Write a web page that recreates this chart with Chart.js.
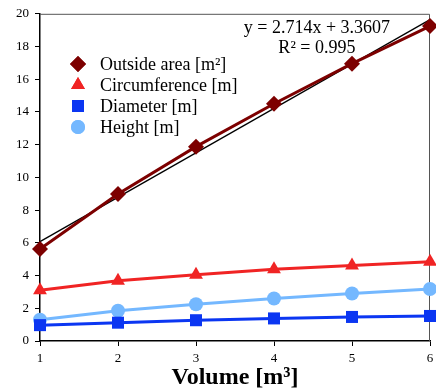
<!DOCTYPE html>
<html>
<head>
<meta charset="utf-8">
<script src="https://cdn.jsdelivr.net/npm/chart.js@4/dist/chart.umd.min.js"></script>
<style>
  html, body { margin: 0; padding: 0; background: #fff; }
  #wrap { width: 436px; height: 392px; }
</style>
</head>
<body>
<div id="wrap"><canvas id="myChart" width="436" height="392"></canvas></div>
<script>
// volumes on the x axis
const volumes = [1, 2, 3, 4, 5, 6];
const outsideArea = [5.62, 8.98, 11.88, 14.5, 16.95, 19.25];
const circumference = [3.1, 3.68, 4.05, 4.38, 4.62, 4.85];
const diameter = [0.97, 1.12, 1.27, 1.38, 1.47, 1.53];
const height = [1.3, 1.85, 2.25, 2.6, 2.9, 3.18];
const seriesNames = ['Outside area [m²]', 'Circumference [m]', 'Diameter [m]', 'Height [m]'];
// linear trend of outside area, as printed on the chart
const trendSlope = 2.714;
const trendIntercept = 3.3607;
const trendR2 = 0.995;

const serif = "'Liberation Serif', 'Times New Roman', serif";

function pts(ys) {
    return volumes.map((x, i) => ({x: x, y: ys[i]}));
}
const trendX = [volumes[0], volumes[volumes.length - 1]];
const trendData = trendX.map(x => ({x: x, y: trendSlope * x + trendIntercept}));

const series = [
    {label: seriesNames[0], data: pts(outsideArea), color: '#7d0000', style: 'rectRot', radius: 8},
    {label: seriesNames[1], data: pts(circumference), color: '#f02424', style: 'triangle', radius: 8},
    {label: seriesNames[2], data: pts(diameter), color: '#0b36f2', style: 'rect', radius: 8.5},
    {label: seriesNames[3], data: pts(height), color: '#74b8ff', style: 'circle', radius: 7},
];

const datasets = series.map(s => ({
    label: s.label,
    data: s.data,
    showLine: true,
    borderColor: s.color,
    backgroundColor: s.color,
    borderWidth: 3,
    pointStyle: s.style,
    pointRadius: s.radius,
    pointBorderWidth: 0,
    pointBackgroundColor: s.color,
    tension: 0,
}));
datasets.push({
    label: 'trend',
    data: trendData,
    showLine: true,
    borderColor: '#000',
    borderWidth: 1.3,
    pointRadius: 0,
    tension: 0,
});

// legend inside the plot + frame + equation
const extras = {
    id: 'extras',
    beforeDatasetsDraw(chart) {
        const ctx = chart.ctx, a = chart.chartArea;
        ctx.save();
        ctx.strokeStyle = '#555';
        ctx.lineWidth = 1;
        ctx.beginPath();
        ctx.moveTo(a.left, a.top + 0.5);
        ctx.lineTo(a.right - 0.5, a.top + 0.5);
        ctx.lineTo(a.right - 0.5, a.bottom);
        ctx.stroke();
        ctx.restore();
    },
    afterDraw(chart) {
        const ctx = chart.ctx;
        const xs = chart.scales.x, ys = chart.scales.y;
        ctx.save();
        ctx.fillStyle = '#000';
        ctx.font = '18px ' + serif;
        ctx.textAlign = 'left';
        ctx.textBaseline = 'middle';
        series.forEach((s, i) => {
            const ly = 64 + i * 21;
            ctx.fillStyle = s.color;
            Chart.helpers.drawPoint(ctx, {pointStyle: s.style, radius: s.radius, rotation: 0, borderWidth: 0}, 78, ly);
            ctx.fill();
            ctx.fillStyle = '#000';
            ctx.fillText(s.label, 100, ly + 1);
        });
        ctx.textAlign = 'center';
        const cx = xs.getPixelForValue(4.55);
        ctx.fillText('y = ' + trendSlope + 'x + ' + trendIntercept, cx, ys.getPixelForValue(19.1));
        ctx.fillText('R² = ' + trendR2, cx, ys.getPixelForValue(17.9));
        ctx.restore();
    }
};

const config = {
    type: 'scatter',
    data: {datasets: datasets},
    options: {
        responsive: false,
        animation: false,
        clip: false,
        layout: {autoPadding: false, padding: {top: 12, right: 6, left: 0, bottom: 0}},
        plugins: {
            legend: {display: false},
            tooltip: {enabled: false},
        },
        scales: {
            x: {
                type: 'linear',
                min: 1,
                max: 6,
                afterFit: s => { s.height = 51; },
                afterUpdate: s => { s.paddingRight = 0; s.paddingLeft = 0; },
                ticks: {stepSize: 1, color: '#000', font: {family: serif, size: 13}, padding: 5},
                grid: {drawOnChartArea: false, color: '#000', tickLength: 5},
                border: {color: '#000', width: 1.5},
                title: {
                    display: true,
                    text: 'Volume [m³]',
                    color: '#000',
                    font: {family: serif, size: 24, weight: 'bold'},
                    padding: {top: 0, bottom: 0},
                },
            },
            y: {
                min: 0,
                max: 20,
                afterFit: s => { s.width = 40; },
                ticks: {stepSize: 2, color: '#000', font: {family: serif, size: 13}, padding: 6},
                grid: {drawOnChartArea: false, color: '#000', tickLength: 5},
                border: {color: '#000', width: 1.5},
            },
        },
    },
    plugins: [extras],
};

var myChart = new Chart(document.getElementById('myChart'), config);
</script>
</body>
</html>
